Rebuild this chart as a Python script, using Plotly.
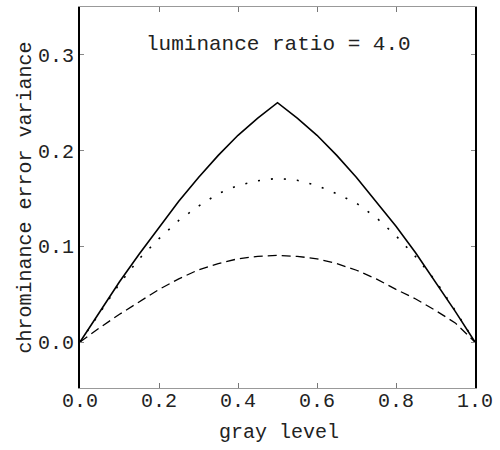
import plotly.graph_objects as go

gray_level = [0.0, 0.05, 0.1, 0.15, 0.2, 0.25, 0.3, 0.35, 0.4, 0.45, 0.5,
              0.55, 0.6, 0.65, 0.7, 0.75, 0.8, 0.85, 0.9, 0.95, 1.0]
solid_var = [0.0, 0.032, 0.063, 0.092, 0.120, 0.147, 0.172, 0.195, 0.216, 0.234, 0.25,
             0.234, 0.216, 0.195, 0.172, 0.147, 0.121, 0.093, 0.063, 0.032, 0.0]
dotted_var = [0.0, 0.031, 0.061, 0.087, 0.108, 0.127, 0.142, 0.155, 0.1635, 0.1685, 0.171,
              0.169, 0.1635, 0.155, 0.145, 0.130, 0.111, 0.089, 0.064, 0.033, 0.0]
dashed_var = [0.0, 0.015, 0.029, 0.042, 0.055, 0.066, 0.0755, 0.082, 0.087, 0.0895, 0.0905,
              0.0895, 0.087, 0.082, 0.075, 0.066, 0.055, 0.045, 0.033, 0.020, 0.0]

x_ticks = [0.0, 0.2, 0.4, 0.6, 0.8, 1.0]
y_ticks = [0.0, 0.1, 0.2, 0.3]

FONT = "Liberation Mono"

fig = go.Figure()
fig.add_trace(go.Scatter(x=gray_level, y=solid_var, mode="lines",
                         line=dict(color="black", width=1.6)))
fig.add_trace(go.Scatter(x=gray_level, y=dotted_var, mode="lines",
                         line=dict(color="black", width=1.6, dash="2px,11px")))
fig.add_trace(go.Scatter(x=gray_level, y=dashed_var, mode="lines",
                         line=dict(color="black", width=1.3, dash="9px,5px")))

fig.update_layout(
    width=500, height=450,
    margin=dict(l=80, r=25, t=7, b=62),
    paper_bgcolor="white", plot_bgcolor="white",
    showlegend=False,
    font=dict(family=FONT, color="#222", size=20),
    xaxis=dict(range=[0, 1], tickvals=x_ticks, tickformat=".1f",
               showgrid=False, zeroline=False,
               showline=True, linecolor="#999", linewidth=1, mirror="allticks",
               ticks="inside", ticklen=5, tickcolor="#777",
               ticklabelstandoff=-6,
               tickfont=dict(family=FONT, size=20, color="#222")),
    yaxis=dict(range=[-0.048, 0.350], tickvals=y_ticks, tickformat=".1f",
               showgrid=False, zeroline=False,
               showline=True, linecolor="black", linewidth=2, mirror="allticks",
               ticks="inside", ticklen=4, tickcolor="#888",
               tickfont=dict(family=FONT, size=20, color="#222")),
    annotations=[
        dict(text="luminance ratio = 4.0", x=0.503, y=0.311, xref="x", yref="y",
             showarrow=False, xanchor="center", yanchor="middle",
             font=dict(family=FONT, size=21, color="#222")),
        dict(text="gray level", x=0.505, y=-0.118, xref="paper", yref="paper",
             showarrow=False, xanchor="center", yanchor="middle",
             font=dict(family=FONT, size=20, color="#222")),
        dict(text="chrominance error variance", x=-0.139, y=0.5,
             xref="paper", yref="paper", textangle=-90,
             showarrow=False, xanchor="center", yanchor="middle",
             font=dict(family=FONT, size=20, color="#222")),
    ],
)

fig.write_html("out.html")
